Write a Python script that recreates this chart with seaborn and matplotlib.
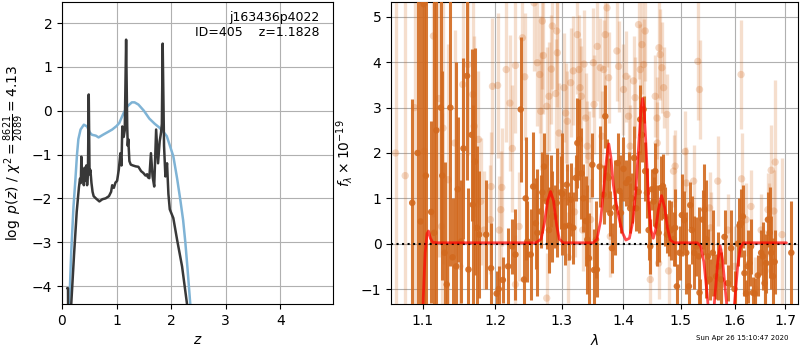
import matplotlib
matplotlib.use("Agg")
import matplotlib.pyplot as plt
from matplotlib.ticker import FixedLocator, FormatStrFormatter, NullLocator
import seaborn as sns

# ---- p(z) panel ----
z_chi2 = [0.10, 0.134, 0.17, 0.21, 0.245, 0.275, 0.30, 0.34, 0.40, 0.46, 0.51,
          0.55, 0.62, 0.67, 0.75, 0.85, 0.92, 1.00, 1.05, 1.13, 1.20, 1.28,
          1.33, 1.40, 1.50, 1.60, 1.70, 1.78, 1.85, 1.92, 1.98, 2.04, 2.11,
          2.17, 2.22, 2.26, 2.30, 2.35, 2.40]
logp_chi2 = [-6.0, -4.4, -3.2, -2.2, -1.58, -1.0, -0.65, -0.43, -0.32, -0.36, -0.50,
             -0.55, -0.57, -0.61, -0.55, -0.48, -0.43, -0.35, -0.28, -0.05, 0.10, 0.19,
             0.19, 0.14, 0.0, -0.18, -0.30, -0.38, -0.47, -0.58, -0.81, -1.04, -1.55,
             -2.05, -2.5, -3.0, -3.6, -4.4, -5.2]

z_pdf = [0.095, 0.110, 0.118, 0.170, 0.220, 0.270, 0.310, 0.330, 0.345, 0.355,
         0.370, 0.385, 0.400, 0.415, 0.430, 0.445, 0.460, 0.475, 0.490, 0.505,
         0.520, 0.540, 0.560, 0.580, 0.620, 0.685, 0.740, 0.800, 0.860, 0.900,
         0.920, 0.950, 0.980, 1.010, 1.040, 1.070, 1.090, 1.105, 1.130, 1.150,
         1.175, 1.195, 1.205, 1.215, 1.235, 1.260, 1.300, 1.350, 1.400, 1.450,
         1.490, 1.530, 1.560, 1.575, 1.600, 1.630, 1.660, 1.690, 1.725, 1.760,
         1.790, 1.815, 1.830, 1.845, 1.870, 1.895, 1.925, 1.950, 1.975, 2.040,
         2.110, 2.200, 2.290, 2.330]
logp_pdf = [-4.05, -4.05, -6.0, -4.4, -3.3, -2.3, -1.75, -1.55, -1.65, -1.05,
            -1.55, -1.35, -1.70, -1.30, -1.60, -1.25, -1.70, -1.45, 0.37, -1.45,
            -1.35, -1.65, -1.85, -1.95, -2.00, -2.07, -2.02, -2.00, -1.95, -1.85,
            -1.70, -1.76, -1.64, -1.60, -1.35, -0.97, -1.25, -0.36, -0.60, -0.45,
            1.62, -0.35, -0.80, -0.65, -1.15, -1.23, -1.25, -1.27, -1.28, -1.38,
            -1.42, -1.48, -1.45, -1.52, -1.54, -0.97, -1.50, -1.73, -0.43, -1.20,
            -0.70, -0.50, -0.30, 1.53, -0.80, -1.50, -1.20, -1.90, -2.25, -2.45,
            -2.95, -3.55, -4.40, -5.0]

# ---- spectrum panel: binned (dark) points ----
bin_wave = [1.086, 1.093, 1.097, 1.101, 1.104, 1.111, 1.115, 1.118, 1.124, 1.126,
            1.129, 1.132, 1.137, 1.140, 1.145, 1.147, 1.152, 1.155, 1.160, 1.162,
            1.1665, 1.168, 1.171, 1.174, 1.177, 1.187, 1.194,
            1.202, 1.205, 1.211, 1.2187, 1.2247, 1.2295, 1.2373, 1.2422, 1.2447,
            1.2472, 1.2523, 1.256, 1.260, 1.2623, 1.2674, 1.2699, 1.2725, 1.2766,
            1.2801, 1.2827, 1.2852, 1.289, 1.292, 1.2982, 1.3008, 1.3046, 1.3077,
            1.3113, 1.314, 1.318, 1.322, 1.3245, 1.3277, 1.331, 1.334, 1.3377,
            1.3404, 1.343, 1.3485, 1.3513, 1.3545,
            1.356, 1.3605, 1.367, 1.3697, 1.3725, 1.3752, 1.378, 1.3807, 1.3862,
            1.3902, 1.3935, 1.3957, 1.400, 1.4045, 1.4086, 1.4113, 1.4143, 1.418,
            1.4216, 1.4256, 1.4285, 1.4314, 1.4343, 1.437, 1.440, 1.443, 1.4458,
            1.4487, 1.4517, 1.4545, 1.4575, 1.4604, 1.4645, 1.468, 1.472, 1.475,
            1.478, 1.482, 1.4868, 1.4897, 1.4928, 1.4977, 1.5018, 1.506, 1.5097,
            1.5145, 1.517, 1.520, 1.5243, 1.528, 1.5325,
            1.534, 1.540, 1.543, 1.5462, 1.5494, 1.5526, 1.5587, 1.565, 1.5694,
            1.5744, 1.5808, 1.5871, 1.5934, 1.5999, 1.6063, 1.6095, 1.6126, 1.616,
            1.6192, 1.6224, 1.6257, 1.629, 1.632, 1.6355, 1.639, 1.6454, 1.652,
            1.6554, 1.6588, 1.662, 1.6655, 1.669, 1.672, 1.6755, 1.679, 1.713]
bin_flux = [0.9, 2.0, 0.49, 5.28, 1.5, 0.7, 0.24, 2.5, 3.0, 1.5,
            -0.2, -0.9, 3.0, -0.3, -0.5, 1.2, 0.05, 2.1, 3.7, -0.57,
            2.4, 0.86, 1.81, 0.35, 0.2, 0.2, -0.54,
            -1.1, -1.0, -0.8, -0.5, -0.06, -0.24, 2.96, -0.79, 1.0,
            0.05, -0.24, 1.26, 0.45, 0.24, 0.71, 1.13, 1.7, 0.93,
            0.3, 1.16, 0.6, 0.6, 0.9, 1.13, 1.1, 0.38, 1.3,
            0.4, 0.97, 0.35, 1.45, 2.22, 2.3, 1.55, 1.0, 0.5,
            0.09, -0.32, 1.74, -0.58, 0.09,
            -0.57, 1.7, 1.08, 2.81, 1.5, 1.45, 0.67, -0.1, 0.8,
            1.78, 1.16, 0.68, 1.65, 1.34, 1.42, 0.78, 1.0, 1.89,
            0.78, 1.14, 2.74, 2.4, 2.96, 1.6, 1.12, 0.3, -0.06,
            1.2, 0.93, 1.6, 0.4, 0.24, 1.23, 1.27, 0.6, 0.2,
            0.35, 0.3, 0.1, 0.35, -0.94, -0.2, 0.63, 0.52, -0.2,
            -0.94, 0.85, 0.3, -0.2, -0.06, -0.28,
            -1.08, 0.53, 0.75, 0.1, -0.28, -0.79, -0.2, -0.72, -0.5,
            -0.79, 0.15, -0.87, -0.1, -1.0, 0.0, 0.4, 0.45, 0.6,
            -0.65, -1.1, -0.5, -0.43, -0.06, -1.08, -1.1, -0.7, -0.2,
            -0.28, -0.87, -0.43, 0.53, 0.24, -0.2, -0.72, -0.4, -0.2]
bin_err = [2.3, 5.0, 6.0, 7.0, 4.5, 2.0, 5.5, 4.0, 3.0, 2.3,
           2.0, 0.9, 3.5, 1.3, 4.5, 1.6, 1.36, 2.0, 2.3, 1.8,
           1.9, 2.2, 2.5, 1.8, 1.4, 1.2, 1.0,
           0.5, 0.5, 0.5, 0.85, 0.6, 1.0, 1.6, 0.8, 1.35,
           0.9, 1.0, 1.2, 1.0, 1.4, 0.8, 0.9, 0.75, 1.05,
           0.95, 0.8, 1.0, 0.7, 1.2, 0.8, 1.35, 0.85, 0.45,
           0.75, 0.8, 0.8, 0.5, 1.0, 0.9, 1.0, 0.75, 1.0,
           1.2, 1.0, 0.7, 0.9, 0.85,
           0.6, 0.9, 0.65, 0.7, 0.8, 0.45, 0.5, 0.55, 1.05,
           0.65, 0.8, 0.45, 0.7, 0.5, 0.6, 0.55, 0.55, 0.7,
           0.5, 0.9, 0.77, 0.6, 0.3, 0.65, 0.55, 0.65, 0.6,
           0.45, 0.55, 0.62, 0.9, 0.65, 0.7, 0.7, 0.65, 0.4,
           0.62, 0.65, 0.6, 0.85, 0.5, 0.6, 0.9, 0.65, 0.9,
           0.5, 0.5, 0.75, 0.8, 0.65, 1.1,
           0.3, 0.65, 1.0, 1.3, 0.6, 0.45, 0.95, 0.5, 0.75,
           0.6, 0.6, 0.4, 0.85, 0.4, 0.5, 0.6, 0.75, 0.7,
           0.5, 0.3, 0.8, 0.5, 0.6, 0.35, 0.35, 0.45, 0.5,
           0.75, 0.5, 0.65, 0.6, 1.0, 0.8, 0.85, 0.7, 1.15]

# ---- spectrum panel: unbinned (light) points ----
raw_wave = [1.0645, 1.0769, 1.089, 1.102, 1.114, 1.1215, 1.125, 1.127, 1.134, 1.143,
            1.150, 1.154, 1.161, 1.168, 1.170, 1.176, 1.179, 1.184, 1.193, 1.194,
            1.196, 1.2034, 1.2058, 1.208, 1.2095, 1.2159, 1.2213, 1.2249, 1.2295, 1.2295,
            1.2348, 1.2398, 1.2433, 1.2573, 1.2623, 1.2659, 1.2674, 1.2699, 1.2714, 1.2766,
            1.2766, 1.2801, 1.2837, 1.2852, 1.2904, 1.2920, 1.2930, 1.2956, 1.3000, 1.3033,
            1.3060, 1.3086, 1.3100, 1.3140, 1.3180, 1.3200, 1.3245, 1.3271, 1.3287, 1.3308,
            1.3330, 1.3351, 1.3378, 1.3404, 1.3431, 1.3458, 1.3501, 1.3513, 1.3566, 1.3615,
            1.3643, 1.3670, 1.3697, 1.3725, 1.3752, 1.3780, 1.3890, 1.3918, 1.4000, 1.4045,
            1.4086, 1.4113, 1.4170, 1.4197, 1.4256, 1.4285, 1.4314, 1.4343, 1.4370, 1.4458,
            1.4545, 1.4575, 1.4580, 1.4604, 1.4610, 1.4632, 1.4662, 1.4692, 1.4750, 1.4780,
            1.4868, 1.4897, 1.5078, 1.5100, 1.5232, 1.5309, 1.5340, 1.5526, 1.5545, 1.5681,
            1.5750, 1.5871, 1.6000, 1.6126, 1.6135, 1.6224, 1.6320, 1.6400, 1.6520, 1.6600,
            1.6655, 1.6675, 1.6720, 1.6775, 1.6800, 1.6940]
raw_flux = [2.0, 1.5, 3.0, 2.04, 4.58, 3.2, 0.38, 2.55, 1.41, 2.22,
            -0.5, 3.51, 3.95, 3.29, 2.59, 2.30, 0.93, 0.30, 0.53, 1.26,
            3.47, 3.49, 0.3, 0.75, 1.24, 3.84, 3.10, 2.10, 3.93, -0.9,
            0.38, 4.54, 3.68, 5.31, 3.99, 3.73, 2.92, 4.91, 4.15, 3.03,
            -1.2, 3.25, 3.85, 4.80, 3.31, 4.69, 4.21, 2.44, 1.0, 3.44,
            2.88, 2.70, -0.3, 3.55, 3.81, 0.7, 4.61, 3.84, 3.44, 3.25,
            0.3, 3.96, 2.77, 2.15, 1.93, 0.53, 3.99, 3.07, 4.35, 3.88,
            2.37, 3.84, 4.61, 5.20, 3.66, 0.16, 4.25, 3.91, 3.40, 3.69,
            2.81, 2.15, 3.59, 3.22, 4.83, 3.84, 4.39, 3.95, 4.69, -0.79,
            3.25, 2.77, 2.22, -0.43, 4.32, 4.17, 3.88, 3.44, 2.85, -0.6,
            1.60, 1.71, 2.03, 1.34, 1.38, 4.02, 3.40, 0.79, 0.35, 1.38,
            -0.9, 0.30, -0.5, 3.73, 1.43, 0.53, 0.82, -1.0, 0.30, -0.6,
            0.75, 0.53, 1.62, 0.72, 1.80, 0.20]
raw_err = [5.0, 5.0, 5.0, 5.0, 4.0, 3.5, 2.5, 3.0, 3.0, 2.5,
           2.5, 2.5, 2.0, 2.2, 2.0, 1.5, 1.4, 1.3, 1.2, 1.2,
           1.5, 1.6, 1.2, 1.3, 1.3, 1.6, 1.5, 1.4, 1.5, 1.1,
           1.2, 1.5, 1.4, 1.5, 1.4, 1.3, 1.3, 1.5, 1.3, 1.3,
           1.0, 1.2, 1.2, 1.4, 1.2, 1.3, 1.2, 1.1, 1.0, 1.2,
           1.1, 1.1, 1.0, 1.2, 1.2, 1.0, 1.3, 1.2, 1.1, 1.1,
           0.9, 1.2, 1.0, 1.0, 1.0, 0.9, 1.2, 1.1, 1.2, 1.1,
           1.0, 1.1, 1.2, 1.3, 1.0, 0.9, 1.1, 1.0, 1.0, 1.0,
           0.9, 0.9, 1.0, 0.9, 1.2, 1.0, 1.1, 1.0, 1.1, 0.8,
           0.9, 0.9, 0.9, 0.8, 1.1, 1.0, 1.0, 0.9, 0.9, 0.8,
           0.8, 0.8, 0.9, 0.8, 0.8, 1.3, 1.1, 0.8, 0.8, 1.0,
           0.8, 0.8, 0.9, 1.2, 1.0, 0.8, 0.8, 0.7, 0.8, 0.9,
           0.8, 0.8, 1.0, 0.9, 1.8, 1.7]

# ---- best-fit line model ----
model_wave = [1.098, 1.1005, 1.103, 1.1055, 1.1075, 1.110, 1.113, 1.120, 1.260, 1.268,
              1.273, 1.278, 1.2825, 1.287, 1.292, 1.296, 1.302, 1.350, 1.356, 1.362,
              1.367, 1.372, 1.3755, 1.379, 1.383, 1.387, 1.392, 1.398, 1.404, 1.410,
              1.416, 1.421, 1.426, 1.430, 1.4325, 1.435, 1.439, 1.443, 1.447, 1.451,
              1.455, 1.460, 1.4655, 1.471, 1.476, 1.481, 1.488, 1.530, 1.536, 1.542,
              1.548, 1.553, 1.558, 1.563, 1.568, 1.5725, 1.577, 1.583, 1.589, 1.595,
              1.600, 1.606, 1.611, 1.617, 1.703]
model_flux = [-3.0, -1.2, -0.2, 0.22, 0.28, 0.12, 0.03, 0.02, 0.02, 0.1,
              0.45, 0.95, 1.15, 0.95, 0.4, 0.1, 0.02, 0.02, 0.1, 0.5,
              1.2, 1.9, 2.2, 1.9, 1.3, 0.95, 0.6, 0.25, 0.08, 0.12,
              0.5, 1.2, 2.2, 3.0, 3.2, 3.0, 2.0, 0.9, 0.3, 0.12,
              0.3, 0.75, 1.06, 0.8, 0.35, 0.08, 0.02, 0.02, -0.05, -0.4,
              -1.1, -1.8, -1.9, -1.1, -0.4, -0.05, -0.35, -1.1, -1.8, -2.0,
              -1.3, -0.5, -0.1, 0.02, 0.02]

lam_ticks = [1.1, 1.2, 1.3, 1.4, 1.5, 1.6, 1.7]

sns.set_style("ticks", {"axes.grid": True, "grid.color": "#b0b0b0",
                        "axes.edgecolor": "black", "xtick.color": "black",
                        "ytick.color": "black", "text.color": "black",
                        "axes.labelcolor": "black"})
plt.rcParams.update({"axes.linewidth": 0.8, "xtick.major.size": 3.5,
                     "ytick.major.size": 3.5, "xtick.major.width": 0.8,
                     "ytick.major.width": 0.8, "grid.linewidth": 0.8,
                     "font.family": ["DejaVu Sans"]})

fig = plt.figure(figsize=(8, 3.5), dpi=100)
ax1 = fig.add_axes([0.0775, 0.1314, 0.339, 0.863])
ax2 = fig.add_axes([0.489, 0.1314, 0.5085, 0.863])

# p(z)
sns.lineplot(x=z_chi2, y=logp_chi2, ax=ax1, sort=False, estimator=None,
             color="#7fb3d5", lw=1.8)
sns.lineplot(x=z_pdf, y=logp_pdf, ax=ax1, sort=False, estimator=None,
             color="0.22", lw=1.8)
ax1.set_xlim(0, 4.97)
ax1.set_ylim(-4.41, 2.48)
ax1.set_yticks([-4, -3, -2, -1, 0, 1, 2])
ax1.set_xticks([0, 1, 2, 3, 4])
ax1.set_xlabel(r"$z$")
ax1.set_ylabel(r"$\log\ p(z)$ / $\chi^2=\frac{8621}{2089}=4.13$")
ax1.text(0.95, 0.97, "j163436p4022\nID=405    z=1.1828", transform=ax1.transAxes,
         ha="right", va="top", fontsize=9, linespacing=1.15)

# spectrum
orange = "#d2691e"
ax2.errorbar(bin_wave, bin_flux, yerr=bin_err, fmt="none", ecolor=orange,
             elinewidth=2.2, alpha=0.9, zorder=3)
sns.scatterplot(x=bin_wave, y=bin_flux, ax=ax2, color=orange, s=22,
                edgecolor="none", alpha=0.9, zorder=4)
ax2.errorbar(raw_wave, raw_flux, yerr=raw_err, fmt="none", ecolor=orange,
             elinewidth=2.4, alpha=0.22, zorder=2)
sns.scatterplot(x=raw_wave, y=raw_flux, ax=ax2, color=orange, s=28,
                edgecolor="none", alpha=0.25, zorder=2)
ax2.axhline(0, color="k", ls=":", lw=1.5, zorder=5)
sns.lineplot(x=model_wave, y=model_flux, ax=ax2, sort=False, estimator=None,
             color="red", lw=2, alpha=0.7, zorder=6)

ax2.set_xscale("log")
ax2.xaxis.set_major_locator(FixedLocator(lam_ticks))
ax2.xaxis.set_major_formatter(FormatStrFormatter("%.1f"))
ax2.xaxis.set_minor_locator(NullLocator())
ax2.set_xlim(1.0589, 1.7268)
ax2.set_ylim(-1.33, 5.33)
ax2.set_yticks([-1, 0, 1, 2, 3, 4, 5])
ax2.set_xlabel(r"$\lambda$")
ax2.set_ylabel(r"$f_\lambda \times 10^{-19}$")

fig.text(0.985, 0.025, "Sun Apr 26 15:10:47 2020", ha="right", va="bottom",
         fontsize=5)

fig.savefig("out.png", dpi=100)
